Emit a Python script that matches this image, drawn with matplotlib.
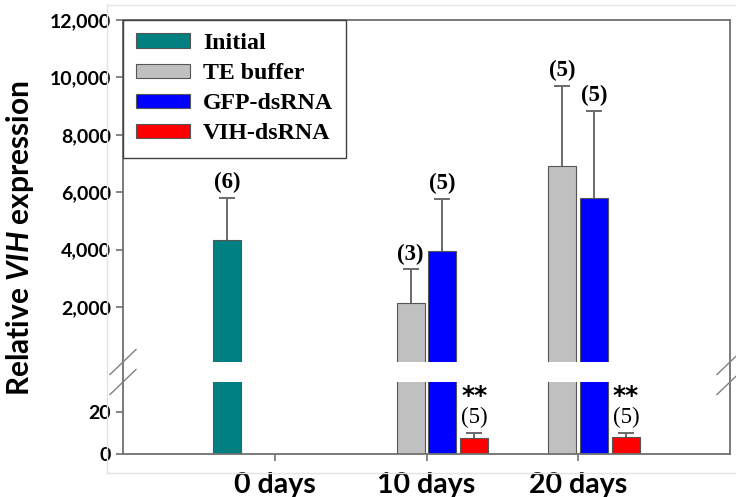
import matplotlib.pyplot as plt
import numpy as np

plt.rcParams['font.family'] = ['Lato', 'DejaVu Sans']
plt.rcParams['mathtext.fontset'] = 'custom'
plt.rcParams['mathtext.it'] = 'Lato:italic:bold'

groups = ['0 days', '10 days', '20 days']
series = ['Initial', 'TE buffer', 'GFP-dsRNA', 'VIH-dsRNA']
colors = ['#008080', '#C0C0C0', '#0000FF', '#FF0000']

nan = np.nan
means = [[4330, nan, nan],
         [nan, 2140, 6910],
         [nan, 3950, 5800],
         [nan, 7.6, 8.0]]
errs = [[1470, nan, nan],
        [nan, 1180, 2790],
        [nan, 1810, 3030],
        [nan, 2.3, 1.7]]
ns = [['(6)', '', ''],
      ['', '(3)', '(5)'],
      ['', '(5)', '(5)'],
      ['', '(5)', '(5)']]

W, H = 736, 497
fig = plt.figure(figsize=(W / 100, H / 100), dpi=100)

def box(x0, y0, x1, y1):
    return [x0 / W, 1 - y1 / H, (x1 - x0) / W, (y1 - y0) / H]

# faint outer chart frame
fig.add_artist(plt.Line2D([107 / W, 107 / W], [1 - 473 / H, 1 - 5 / H], color='#e4e4e4', lw=1))
fig.add_artist(plt.Line2D([107 / W, 1], [1 - 5 / H, 1 - 5 / H], color='#e4e4e4', lw=1))
fig.add_artist(plt.Line2D([107 / W, 1], [1 - 473 / H, 1 - 473 / H], color='#e4e4e4', lw=1))

ax_top = fig.add_axes(box(123, 20, 730, 362))
ax_bot = fig.add_axes(box(123, 382, 730, 454))

x = np.arange(len(groups))
slot = 0.21
spine_c = '#707070'

for ax in (ax_top, ax_bot):
    for i, name in enumerate(series):
        pos = x + (i - 1.5) * slot
        vals = np.array(means[i], dtype=float)
        ax.bar(pos, vals, width=0.185, color=colors[i], edgecolor='#555555',
               linewidth=0.8, label=name, zorder=2)
        e = np.array(errs[i], dtype=float)
        eb = ax.errorbar(pos, vals, yerr=[np.zeros_like(e), e], fmt='none',
                         ecolor='#6a6a6a', elinewidth=1.4, capsize=5.5, capthick=1.4,
                         zorder=1)
        eb.lines[1][0].set_visible(False)  # no cap at the bar top
    ax.set_xlim(-1, 3)
    for s in ax.spines.values():
        s.set_color(spine_c)
        s.set_linewidth(1.3)
    ax.tick_params(axis='y', direction='out', length=5, color=spine_c, width=1.2)

ax_top.set_ylim(90, 12000)
ax_top.set_yticks([2000, 4000, 6000, 8000, 10000, 12000])
ax_top.set_yticklabels(['2,000', '4,000', '6,000', '8,000', '10,000', '12,000'],
                       fontweight='bold', fontsize=14)
ax_top.spines['bottom'].set_visible(False)
ax_top.set_xticks([])

ax_bot.set_ylim(0, 34)
ax_bot.set_yticks([0, 20])
ax_bot.set_yticklabels(['0', '20'], fontweight='bold', fontsize=14)
ax_bot.spines['top'].set_visible(False)
ax_bot.set_xticks(x)
ax_bot.set_xticklabels(groups, fontweight='bold', fontsize=20.5)
ax_bot.tick_params(axis='x', direction='out', length=5, color=spine_c, width=1.2, pad=8)

# sample sizes
for i in range(3):
    pos = x + (i - 1.5) * slot
    for j in range(3):
        if ns[i][j]:
            ax_top.annotate(ns[i][j], (pos[j], means[i][j] + errs[i][j]),
                            xytext=(0, 11), textcoords='offset points', ha='center',
                            va='center', fontsize=16.5, fontweight='bold',
                            family='Liberation Serif')
pos = x + 1.5 * slot
for j in (1, 2):
    top = means[3][j] + errs[3][j]
    ax_bot.annotate(ns[3][j], (pos[j], top), xytext=(0, 11.5), textcoords='offset points',
                    ha='center', va='center', fontsize=16.5, family='Liberation Serif')
    ax_bot.annotate('**', (pos[j], top), xytext=(0, 27), textcoords='offset points',
                    ha='center', va='center', fontsize=18, fontweight='bold',
                    family='DejaVu Sans')

leg = ax_top.legend(loc='upper left', bbox_to_anchor=(0, 1), borderaxespad=0,
                    fancybox=False, framealpha=1, edgecolor='#404040',
                    prop={'family': 'Liberation Serif', 'weight': 'bold', 'size': 17.2},
                    handlelength=2.25, handleheight=0.55, labelspacing=0.38,
                    handletextpad=0.55, borderpad=0.55)
leg.get_frame().set_linewidth(1.0)
leg.set_zorder(5)

# continuous side spines across the gap and break marks
for xp in (123, 730):
    fig.add_artist(plt.Line2D([xp / W, xp / W], [1 - 382 / H, 1 - 362 / H],
                              color=spine_c, lw=1.3))
    for yc in (362, 382):
        fig.add_artist(plt.Line2D([(xp - 13) / W, (xp + 13) / W],
                                  [1 - (yc + 12.5) / H, 1 - (yc - 12.5) / H],
                                  color='#808080', lw=1.0))

fig.text(20 / W, 1 - 238 / H, r'Relative $\mathit{VIH}$ expression', rotation=90,
         ha='center', va='center', fontsize=21.5, fontweight='bold')

fig.savefig('out.png', dpi=100)
